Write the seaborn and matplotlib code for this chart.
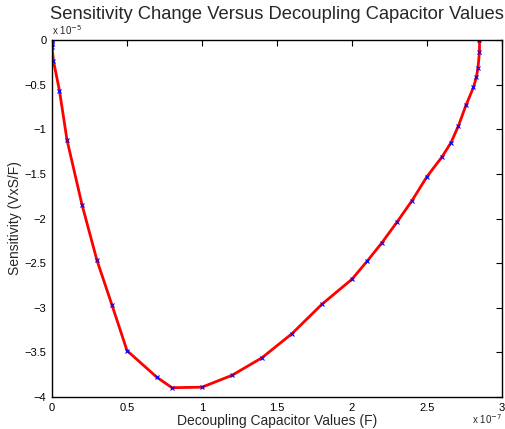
import numpy as np
import pandas as pd
import matplotlib
matplotlib.use("Agg")
import matplotlib.pyplot as plt
import seaborn as sns

sns.set_style("white")
plt.rcParams['font.family'] = ['Liberation Sans', 'DejaVu Sans']

# decoupling capacitor values (F) and sensitivity (VxS/F)
cap_values = np.array([0, 0, 0, 0, 0.01, 0.05, 0.1, 0.2, 0.3, 0.4, 0.5, 0.7, 0.8, 1.0,
                       1.2, 1.4, 1.6, 1.8, 2.0, 2.1, 2.2, 2.3, 2.4, 2.5, 2.6, 2.66,
                       2.71, 2.76, 2.81, 2.83, 2.84, 2.85, 2.85]) * 1e-7
sensitivity = np.array([0, -0.02, -0.05, -0.08, -0.235, -0.57, -1.12, -1.845, -2.47,
                        -2.97, -3.48, -3.78, -3.896, -3.89, -3.757, -3.56, -3.29,
                        -2.96, -2.68, -2.48, -2.27, -2.04, -1.80, -1.53, -1.31, -1.15,
                        -0.96, -0.73, -0.53, -0.41, -0.31, -0.13, 0.0]) * 1e-5

df = pd.DataFrame({'cap': cap_values, 'sens': sensitivity})

fig = plt.figure(figsize=(5.06, 4.29), dpi=100)
ax = fig.add_axes([52 / 506, 1 - 397 / 429, 450 / 506, 357 / 429])

sns.lineplot(data=df, x='cap', y='sens', sort=False, estimator=None,
             color='red', linewidth=2, ax=ax)
ax.plot(df.cap, df.sens, linestyle='none', marker='x', color='blue',
        markersize=3.5, markeredgewidth=0.8)

ax.set_xlim(0, 3e-7)
ax.set_ylim(-4e-5, 0)
ax.set_xticks(np.arange(0, 3.01, 0.5) * 1e-7)
ax.set_yticks(np.arange(-4, 0.01, 0.5) * 1e-5)

def fmt(scale):
    def f(v, pos):
        s = '%g' % round(v / scale, 6)
        return s.replace('-', '\u2212')
    return plt.FuncFormatter(f)

ax.xaxis.set_major_formatter(fmt(1e-7))
ax.yaxis.set_major_formatter(fmt(1e-5))
ax.tick_params(direction='in', length=4, width=0.8, labelsize=8,
               top=True, right=True, colors='black', pad=4)
for sp in ax.spines.values():
    sp.set_color('black')
    sp.set_linewidth(1)
    sp.set_visible(True)

ax.set_xlabel('Decoupling Capacitor Values (F)', fontsize=10, labelpad=1)
ax.set_ylabel('Sensitivity (VxS/F)', fontsize=10, labelpad=2)
ax.set_title('Sensitivity Change Versus Decoupling Capacitor Values', fontsize=13.2, pad=15)

ax.text(0, 1.008, 'x 10$^{-5}$', transform=ax.transAxes, fontsize=7,
        ha='left', va='bottom')
ax.text(1.0, -0.042, 'x 10$^{-7}$', transform=ax.transAxes, fontsize=7,
        ha='right', va='top')

plt.savefig('out.png', dpi=100)
